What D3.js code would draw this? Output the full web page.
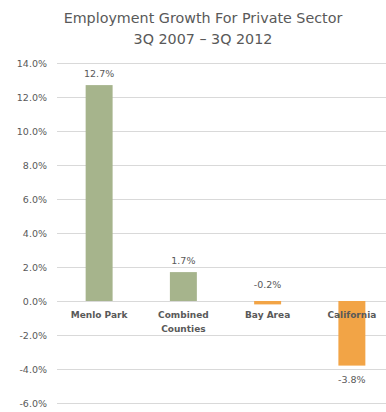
<!DOCTYPE html>
<html>
<head>
<meta charset="utf-8">
<script src="https://cdn.jsdelivr.net/npm/d3@7"></script>
<style>
  body { margin: 0; background: #fff; }
  text { font-family: "DejaVu Sans", sans-serif; fill: #595959; }
</style>
</head>
<body>
<script>
// Chart data
var categories = [["Menlo Park"], ["Combined", "Counties"], ["Bay Area"], ["California"]];
var growth = [12.7, 1.7, -0.2, -3.8];
var tick_values = [14, 12, 10, 8, 6, 4, 2, 0, -2, -4, -6];

var svg_width = 386;
var svg_height = 412;
var margin = { top: 63, right: -8, bottom: 9, left: 57 };

var svg = d3.select("body")
    .append("svg")
    .attr("width", svg_width)
    .attr("height", svg_height);

// Title, two lines
svg.append("text")
    .attr("x", 203).attr("y", 23)
    .attr("text-anchor", "middle")
    .attr("font-size", "14.3px")
    .text("Employment Growth For Private Sector");
svg.append("text")
    .attr("x", 203).attr("y", 44)
    .attr("text-anchor", "middle")
    .attr("font-size", "14.3px")
    .text("3Q 2007 \u2013 3Q 2012");

var y = d3.scaleLinear()
    .domain([-6, 14])
    .range([svg_height - margin.bottom, margin.top]);

var x = d3.scaleBand()
    .domain(d3.range(categories.length))
    .range([margin.left, svg_width - margin.right])
    .paddingInner(0.68)
    .paddingOuter(0.34);

// Gridlines and tick labels
var yAxis = svg.append("g")
    .attr("transform", "translate(" + margin.left + ",0)")
    .call(d3.axisLeft(y)
        .tickValues(tick_values)
        .tickSize(-(svg_width - margin.left))
        .tickPadding(10)
        .tickFormat(function (d) { return d.toFixed(1) + "%"; }));
yAxis.select(".domain").remove();
yAxis.selectAll("line").attr("stroke", "#d9d9d9").attr("stroke-width", 1);
yAxis.selectAll("text")
    .attr("font-size", "9.5px")
    .attr("font-family", "DejaVu Sans, sans-serif")
    .attr("fill", "#666666");

// Bars: green for positive, orange for negative
svg.append("g")
    .selectAll("rect")
    .data(growth)
    .enter()
    .append("rect")
    .attr("x", function (d, i) { return x(i); })
    .attr("y", function (d) { return y(Math.max(d, 0)); })
    .attr("width", x.bandwidth())
    .attr("height", function (d) { return Math.abs(y(d) - y(0)); })
    .attr("fill", function (d) { return d >= 0 ? "#a6b48c" : "#f2a446"; });

// Value labels
svg.append("g")
    .selectAll("text")
    .data(growth)
    .enter()
    .append("text")
    .attr("x", function (d, i) { return x(i) + x.bandwidth() / 2; })
    .attr("y", function (d) {
        if (d >= 0) return y(d) - 8;
        // short negative bar: label goes above the zero line
        if (d > -1) return y(0) - 13;
        return y(d) + 17;
    })
    .attr("text-anchor", "middle")
    .attr("font-size", "9.5px")
    .text(function (d) { return d.toFixed(1) + "%"; });

// Category labels just under the zero line
var cat = svg.append("g")
    .selectAll("text")
    .data(categories)
    .enter()
    .append("text")
    .attr("x", function (d, i) { return x(i) + x.bandwidth() / 2; })
    .attr("y", y(0) + 17)
    .attr("text-anchor", "middle")
    .attr("font-size", "9px")
    .attr("font-weight", "bold");
cat.selectAll("tspan")
    .data(function (d) { return d; })
    .enter()
    .append("tspan")
    .attr("x", function () { return d3.select(this.parentNode).attr("x"); })
    .attr("dy", function (d, i) { return i === 0 ? 0 : 13.5; })
    .text(function (d) { return d; });
</script>
</body>
</html>
